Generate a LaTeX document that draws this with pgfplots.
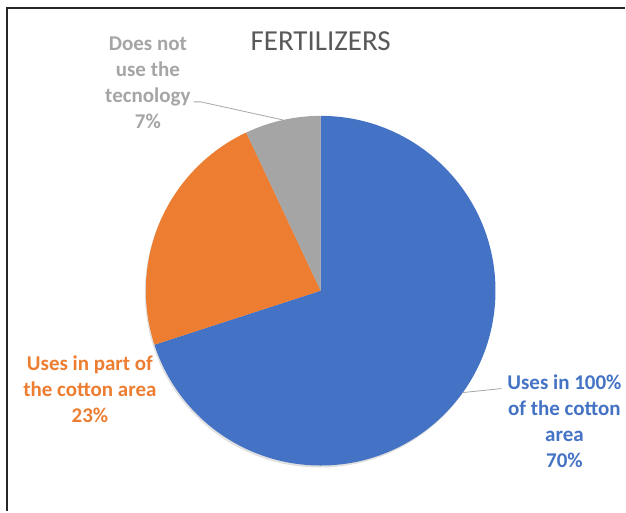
\documentclass[border=0pt]{standalone}
\usepackage{pgfplots}
\pgfplotsset{compat=1.18}
\usepackage{pgfplotstable}
\usepackage{fontspec}
\setmainfont{Carlito}

\definecolor{sliceblue}{HTML}{4472C4}
\definecolor{sliceorange}{HTML}{ED7D31}
\definecolor{slicegray}{HTML}{A5A5A5}
\definecolor{titlegray}{HTML}{595959}

% shares in percent, clockwise from 12 o'clock
\pgfplotstableread{
share
70
23
7
}\piedata

\pgfplotstablegetelem{0}{share}\of\piedata \let\shareA\pgfplotsretval
\pgfplotstablegetelem{1}{share}\of\piedata \let\shareB\pgfplotsretval
\pgfplotstablegetelem{2}{share}\of\piedata \let\shareC\pgfplotsretval

\pgfmathsetmacro\angA{90}
\pgfmathsetmacro\angB{\angA-3.6*\shareA}
\pgfmathsetmacro\angC{\angB-3.6*\shareB}
\pgfmathsetmacro\angD{\angC-3.6*\shareC}

\begin{document}
\begin{tikzpicture}
\begin{axis}[
    x=1pt, y=1pt,
    xmin=0, xmax=626, ymin=0, ymax=512,
    hide axis, clip=false,
    scale only axis,
]
\path (axis cs:0,0) rectangle (axis cs:626,512);

% frame
\draw[line width=1.3pt, black!85] (axis cs:7,0) -- (axis cs:7,504) -- (axis cs:626,504);

% slices
\def\cx{321}\def\cy{221}\def\rr{175pt}
\fill[black!12] (axis cs:\cx-1,\cy-2) circle[radius=\rr];
\fill[sliceblue] (axis cs:\cx,\cy) -- ++(\angA:\rr) arc[start angle=\angA, end angle=\angB, radius=\rr] -- cycle;
\fill[sliceorange] (axis cs:\cx,\cy) -- ++(\angB:\rr) arc[start angle=\angB, end angle=\angC, radius=\rr] -- cycle;
\fill[slicegray] (axis cs:\cx,\cy) -- ++(\angC:\rr) arc[start angle=\angC, end angle=\angD, radius=\rr] -- cycle;

% title
\node[text=titlegray, font=\fontsize{29}{34}\selectfont] at (axis cs:321,471) {FERTILIZERS};

% leader lines
\draw[gray!70, line width=0.8pt] (axis cs:194,410) -- (axis cs:201,410) -- (axis cs:283,392);
\draw[gray!70, line width=0.8pt] (axis cs:463,119) -- (axis cs:502,123);

% data labels
\node[text=slicegray, font=\bfseries\fontsize{21}{26}\selectfont, align=center] at (axis cs:148,429) {Does not\\use the\\tecnology\\7\%};
\node[text=sliceorange, font=\bfseries\fontsize{21}{26}\selectfont, align=center] at (axis cs:90,122) {Uses in part of\\the cotton area\\23\%};
\node[text=sliceblue, font=\bfseries\fontsize{21}{26}\selectfont, align=center] at (axis cs:565,90) {Uses in 100\%\\of the cotton\\area\\70\%};
\end{axis}
\end{tikzpicture}
\end{document}
